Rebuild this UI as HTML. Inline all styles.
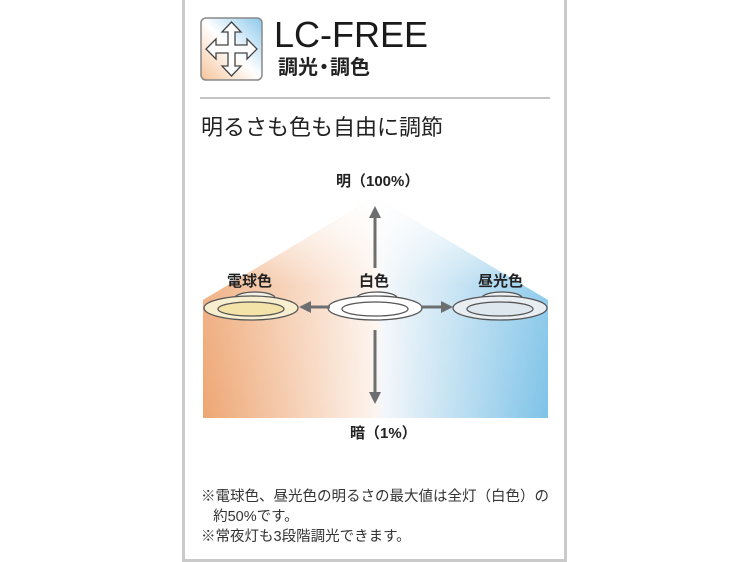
<!DOCTYPE html>
<html><head><meta charset="utf-8"><style>
html,body{margin:0;padding:0;background:#fff;}
body{width:750px;height:562px;position:relative;overflow:hidden;font-family:"Liberation Sans","Noto Sans CJK JP",sans-serif;color:#222;}
.frame{position:absolute;left:182px;top:-3px;width:379px;height:559px;border:3px solid #cacaca;}
.t{position:absolute;white-space:nowrap;}
</style></head><body>
<div class="frame"></div>
<svg style="position:absolute;left:0;top:0" width="750" height="562">
<defs>
<linearGradient id="ic" x1="0" y1="1" x2="1" y2="0">
<stop offset="0" stop-color="#f6c49a"/><stop offset="0.5" stop-color="#fff"/><stop offset="1" stop-color="#8cc9ec"/></linearGradient>
<linearGradient id="h" x1="0" y1="0" x2="1" y2="0">
<stop offset="0" stop-color="#eea673"/><stop offset="0.5" stop-color="#fdf4ee"/><stop offset="0.52" stop-color="#f4f7fa"/><stop offset="1" stop-color="#7ec3e8"/></linearGradient>
<linearGradient id="v" x1="0" y1="0" x2="0" y2="1">
<stop offset="0" stop-color="#fff" stop-opacity="1"/><stop offset="0.4" stop-color="#fff" stop-opacity="0.15"/><stop offset="1" stop-color="#fff" stop-opacity="0"/></linearGradient>
<marker id="a" viewBox="0 0 10 10" refX="5" refY="5" markerWidth="4" markerHeight="4" orient="auto"><path d="M0,0L10,5L0,10z" fill="#6d6e70"/></marker>
</defs>
<rect x="201" y="18" width="61" height="62" rx="5" fill="url(#ic)" stroke="#888" stroke-width="1.5"/>
<path d="M231.5,22 L241,32 L235,32 L235,45 L247,45 L247,39 L257,49 L247,59 L247,53 L235,53 L235,66 L241,66 L231.5,76 L222,66 L228,66 L228,53 L216,53 L216,59 L206,49 L216,39 L216,45 L228,45 L228,32 L222,32 Z" fill="#fff" stroke="#444" stroke-width="1.3"/>
<line x1="200" y1="98" x2="550" y2="98" stroke="#c4c4c4" stroke-width="2"/>
<polygon points="375,197 548,300 548,418 203,418 203,300" fill="url(#h)"/>
<polygon points="375,197 548,300 548,418 203,418 203,300" fill="url(#v)"/>
<g stroke="#555" stroke-width="1.3">
<ellipse cx="255" cy="298" rx="20" ry="6" fill="#f4f0e4"/>
<ellipse cx="251" cy="308" rx="47" ry="12" fill="#f7efd0"/>
<ellipse cx="251" cy="309" rx="33" ry="7" fill="#f3e3a8"/>
<ellipse cx="377" cy="298" rx="20" ry="6" fill="#fff"/>
<ellipse cx="375" cy="308" rx="47" ry="12" fill="#fff"/>
<ellipse cx="375" cy="309" rx="33" ry="7" fill="#fff"/>
<ellipse cx="502" cy="298" rx="20" ry="6" fill="#eef2f4"/>
<ellipse cx="500" cy="308" rx="47" ry="12" fill="#e8eef2"/>
<ellipse cx="500" cy="309" rx="33" ry="7" fill="#dfe7ee"/>
</g>
<g stroke="#6d6e70" stroke-width="3" marker-end="url(#a)">
<line x1="375" y1="268" x2="375" y2="212"/>
<line x1="375" y1="330" x2="375" y2="398"/>
<line x1="330" y1="307" x2="305" y2="307"/>
<line x1="421" y1="307" x2="447" y2="307"/>
</g>
</svg>
<div class="t" style="left:274px;top:15px;font-size:36px;line-height:40px;color:#1a1a1a;">LC-FREE</div>
<div class="t" style="left:278px;top:56px;font-size:20px;line-height:24px;font-weight:bold;">調光<span style="margin:0 -4px">・</span>調色</div>
<div class="t" style="left:201px;top:115px;font-size:22px;line-height:26px;">明るさも色も自由に調節</div>
<div class="t" style="left:336px;top:173px;font-size:15px;line-height:18px;font-weight:bold;">明（100%）</div>
<div class="t" style="left:227px;top:273px;font-size:15px;line-height:18px;font-weight:bold;">電球色</div>
<div class="t" style="left:359px;top:273px;font-size:15px;line-height:18px;font-weight:bold;">白色</div>
<div class="t" style="left:478px;top:273px;font-size:15px;line-height:18px;font-weight:bold;">昼光色</div>
<div class="t" style="left:350px;top:425px;font-size:15px;line-height:18px;font-weight:bold;">暗（1%）</div>
<div class="t" style="left:201px;top:487px;font-size:14.5px;line-height:20px;color:#333;">※電球色、昼光色の明るさの最大値は全灯（白色）の<br>&nbsp;&nbsp;&nbsp;約50%です。<br>※常夜灯も3段階調光できます。</div>
</body></html>
